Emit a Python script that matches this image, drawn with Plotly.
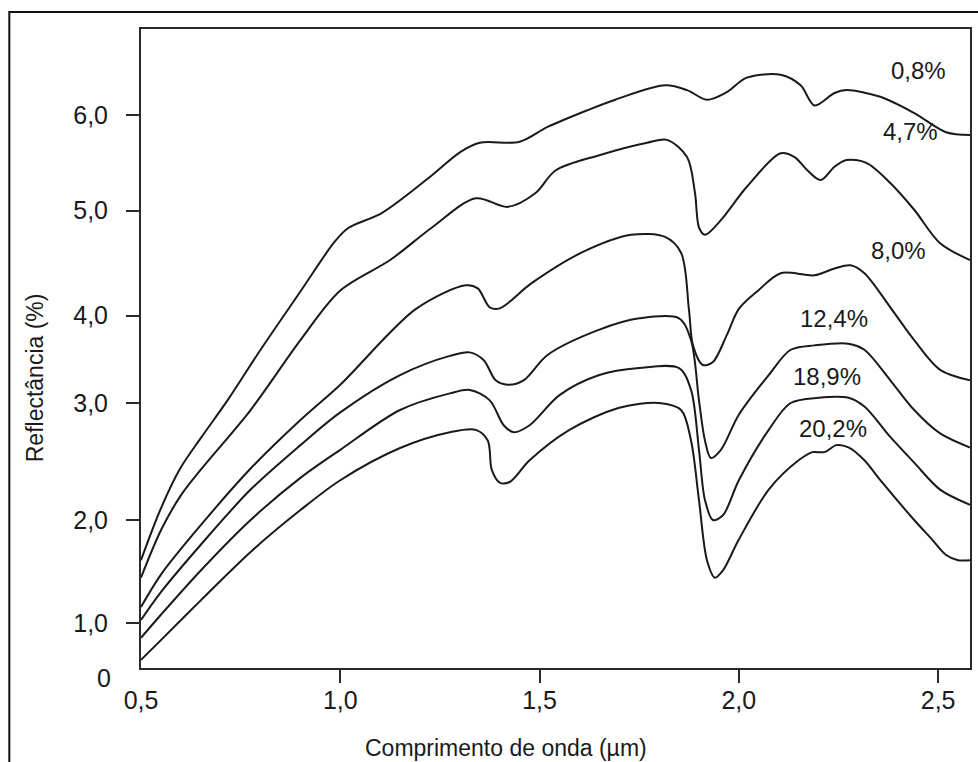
import numpy as np
import plotly.graph_objects as go

# ---- data (wavelength in µm, reflectance in %) ----
labels = ["0,8%", "4,7%", "8,0%", "12,4%", "18,9%", "20,2%"]

x1 = [0.50, 0.55, 0.60, 0.65, 0.72, 0.80, 0.90, 0.985, 1.02, 1.105, 1.23, 1.30, 1.35, 1.45, 1.52, 1.62, 1.69, 1.815, 1.87, 1.92, 1.97, 2.02, 2.105, 2.155, 2.19, 2.24, 2.27, 2.355, 2.44, 2.52, 2.58]
y1 = [1.61, 2.10, 2.45, 2.70, 3.05, 3.61, 4.23, 4.70, 4.835, 4.98, 5.37, 5.61, 5.71, 5.72, 5.875, 6.05, 6.16, 6.31, 6.26, 6.16, 6.24, 6.39, 6.42, 6.31, 6.10, 6.23, 6.26, 6.19, 6.02, 5.82, 5.79]

x2 = [0.50, 0.55, 0.60, 0.65, 0.775, 0.90, 1.0, 1.125, 1.23, 1.34, 1.42, 1.49, 1.54, 1.65, 1.77, 1.82, 1.87, 1.89, 1.90, 1.915, 1.955, 2.02, 2.105, 2.14, 2.17, 2.205, 2.24, 2.27, 2.32, 2.38, 2.44, 2.505, 2.58]
y2 = [1.44, 1.90, 2.21, 2.43, 2.94, 3.72, 4.24, 4.53, 4.84, 5.13, 5.04, 5.185, 5.42, 5.58, 5.71, 5.74, 5.56, 5.185, 4.84, 4.77, 4.91, 5.25, 5.60, 5.56, 5.43, 5.32, 5.46, 5.53, 5.50, 5.29, 5.01, 4.69, 4.53]

x3 = [0.50, 0.55, 0.65, 0.775, 0.90, 1.0, 1.19, 1.315, 1.345, 1.375, 1.40, 1.48, 1.605, 1.73, 1.815, 1.855, 1.875, 1.885, 1.91, 1.935, 1.97, 2.0, 2.05, 2.105, 2.19, 2.24, 2.28, 2.315, 2.38, 2.44, 2.505, 2.58]
y3 = [1.155, 1.47, 1.95, 2.44, 2.855, 3.21, 4.065, 4.29, 4.26, 4.08, 4.07, 4.31, 4.60, 4.77, 4.75, 4.60, 4.05, 3.66, 3.435, 3.47, 3.78, 4.065, 4.245, 4.405, 4.385, 4.45, 4.48, 4.405, 4.08, 3.72, 3.38, 3.26]

x4 = [0.50, 0.55, 0.65, 0.775, 0.90, 1.0, 1.15, 1.275, 1.325, 1.36, 1.39, 1.42, 1.46, 1.52, 1.65, 1.75, 1.85, 1.88, 1.90, 1.915, 1.93, 1.955, 2.0, 2.075, 2.13, 2.19, 2.275, 2.315, 2.38, 2.44, 2.505, 2.58]
y4 = [1.03, 1.30, 1.76, 2.26, 2.64, 2.92, 3.32, 3.54, 3.58, 3.49, 3.26, 3.21, 3.26, 3.55, 3.84, 3.97, 3.97, 3.72, 3.03, 2.68, 2.53, 2.60, 2.90, 3.32, 3.61, 3.66, 3.68, 3.61, 3.26, 2.94, 2.74, 2.62]

x5 = [0.50, 0.55, 0.65, 0.775, 0.90, 1.0, 1.15, 1.275, 1.325, 1.375, 1.41, 1.435, 1.475, 1.55, 1.65, 1.75, 1.85, 1.88, 1.90, 1.915, 1.935, 1.96, 2.0, 2.075, 2.13, 2.20, 2.275, 2.315, 2.38, 2.44, 2.505, 2.58]
y5 = [0.67, 1.08, 1.51, 2.0, 2.36, 2.60, 2.94, 3.11, 3.15, 3.03, 2.81, 2.75, 2.81, 3.09, 3.32, 3.40, 3.40, 3.15, 2.60, 2.17, 2.0, 2.04, 2.34, 2.77, 3.0, 3.06, 3.06, 2.97, 2.71, 2.49, 2.26, 2.13]

x6 = [0.50, 0.55, 0.65, 0.775, 0.90, 1.0, 1.15, 1.275, 1.34, 1.37, 1.38, 1.40, 1.425, 1.475, 1.575, 1.70, 1.80, 1.855, 1.88, 1.90, 1.92, 1.94, 1.96, 2.0, 2.075, 2.15, 2.185, 2.215, 2.245, 2.275, 2.315, 2.355, 2.44, 2.485, 2.52, 2.55, 2.58]
y6 = [0.18, 0.62, 1.22, 1.69, 2.085, 2.34, 2.615, 2.75, 2.77, 2.68, 2.43, 2.32, 2.325, 2.51, 2.77, 2.96, 3.0, 2.94, 2.68, 2.17, 1.61, 1.44, 1.51, 1.81, 2.26, 2.51, 2.58, 2.58, 2.64, 2.62, 2.51, 2.34, 2.0, 1.81, 1.66, 1.61, 1.61]

series_x = [x1, x2, x3, x4, x5, x6]
series_y = [y1, y2, y3, y4, y5, y6]

x_tick_vals = [0.5, 1.0, 1.5, 2.0, 2.5]
x_tick_text = ["0,5", "1,0", "1,5", "2,0", "2,5"]
y_tick_vals = [0, 1, 2, 3, 4, 5, 6]
y_tick_text = ["0", "1,0", "2,0", "3,0", "4,0", "5,0", "6,0"]
x_title = "Comprimento de onda (µm)"
y_title = "Reflectância (%)"

# ---- non-uniform vertical scale of the original figure (calibration, layout) ----
scale_vals = [0, 1, 2, 3, 4, 5, 6, 7]
scale_pos = [0, 45, 148, 265, 352.3, 457.3, 553, 648.7]


def yscale(v):
    return np.interp(np.asarray(v, dtype=float), scale_vals, scale_pos)


# label anchor positions (x in µm, y in reflectance)
label_x = [2.45, 2.43, 2.40, 2.24, 2.22, 2.235]
label_y = [6.47, 5.83, 4.62, 3.97, 3.30, 2.78]

ink = "#1a1a1a"
axis_ink = "#2a2a2a"
font_family = "Liberation Sans, Arial, sans-serif"

fig = go.Figure()
for xs, ys, name in zip(series_x, series_y, labels):
    fig.add_trace(go.Scatter(
        x=xs, y=yscale(ys), mode="lines", name=name,
        line=dict(color=ink, width=2, shape="spline", smoothing=0.9),
        showlegend=False, hoverinfo="skip",
    ))

for lx, ly, t in zip(label_x, label_y, labels):
    fig.add_annotation(x=lx, y=float(yscale(ly)), text=t, showarrow=False,
                       font=dict(size=24, color=ink, family=font_family),
                       xanchor="center", yanchor="middle")

W, H = 978, 762
ml, mr, mt, mb = 141, 6, 29, 94
pw, ph = W - ml - mr, H - mt - mb


def px_x(p):
    return (p - ml) / pw


def px_y(p):
    return (H - mb - p) / ph


# axis titles (placed as in the original figure)
fig.add_annotation(xref="paper", yref="paper", x=px_x(507), y=px_y(748),
                   text=x_title, showarrow=False, xanchor="center", yanchor="middle",
                   font=dict(size=23, color=ink, family=font_family))
fig.add_annotation(xref="paper", yref="paper", x=px_x(35), y=px_y(378),
                   text=y_title, showarrow=False, textangle=-90,
                   xanchor="center", yanchor="middle",
                   font=dict(size=23, color=ink, family=font_family))
# the "0" label of the original sits just below the corner of the axes
fig.add_annotation(xref="paper", yref="paper", x=px_x(113), y=px_y(678),
                   text=y_tick_text[0], showarrow=False, xanchor="right", yanchor="middle",
                   font=dict(size=25, color=ink, family=font_family))

# outer frame of the figure
fig.add_shape(type="rect", xref="paper", yref="paper",
              x0=px_x(9), x1=1.2, y0=-0.3, y1=px_y(12),
              line=dict(color="#111111", width=2), layer="above")

fig.update_layout(
    width=W, height=H,
    margin=dict(l=ml, r=mr, t=mt, b=mb, pad=0),
    paper_bgcolor="white", plot_bgcolor="white",
    font=dict(family=font_family, color=ink, size=24),
)
fig.update_xaxes(
    range=[0.5, 2.58], showgrid=False, zeroline=False,
    showline=True, linecolor=axis_ink, linewidth=2, mirror=True,
    tickmode="array", tickvals=x_tick_vals, ticktext=x_tick_text,
    ticks="", ticklabelstandoff=9,
    minor=dict(tickmode="array", tickvals=x_tick_vals[1:], ticks="outside",
               ticklen=13, tickwidth=2, tickcolor=axis_ink, showgrid=False),
    tickfont=dict(size=25, color=ink),
)
fig.update_yaxes(
    range=[0, ph], showgrid=False, zeroline=False,
    showline=True, linecolor=axis_ink, linewidth=2, mirror=True,
    tickmode="array", tickvals=list(yscale(y_tick_vals[1:])), ticktext=y_tick_text[1:],
    ticks="", ticklabelstandoff=26,
    minor=dict(tickmode="array", tickvals=list(yscale(y_tick_vals[1:])), ticks="outside",
               ticklen=13, tickwidth=2, tickcolor=axis_ink, showgrid=False),
    tickfont=dict(size=25, color=ink),
)

fig.write_html("out.html")
